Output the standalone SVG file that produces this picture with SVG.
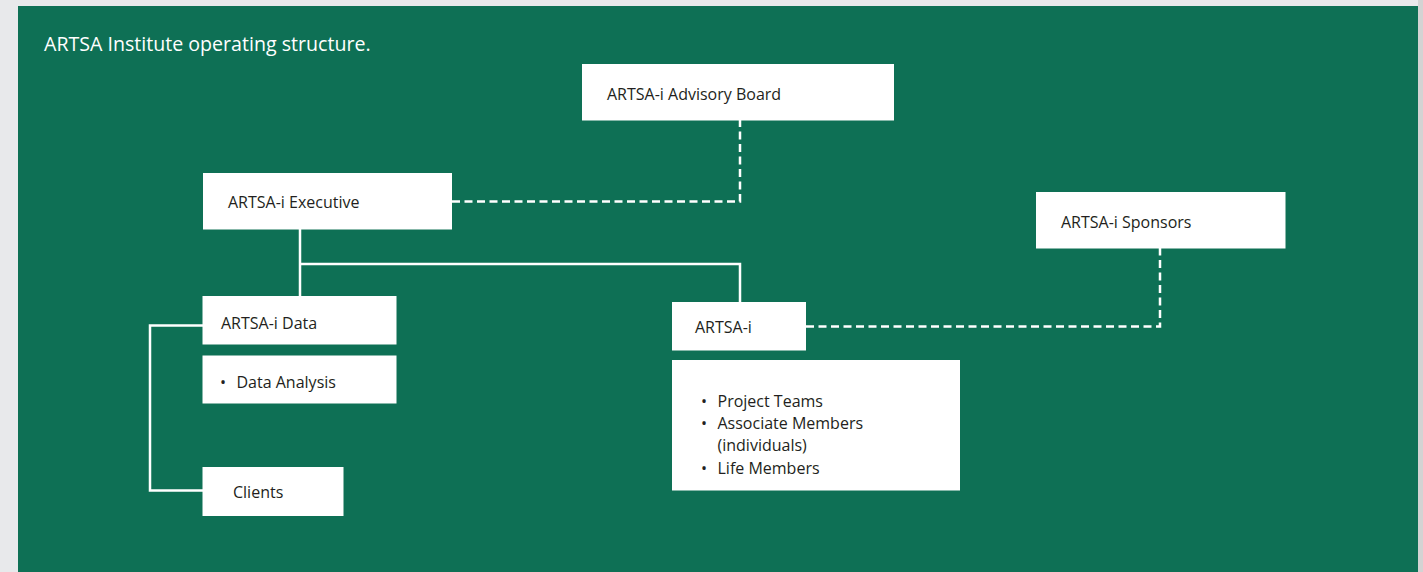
<svg xmlns="http://www.w3.org/2000/svg" width="1423" height="572" viewBox="0 0 1423 572">
<style>
.box{fill:#ffffff}
.t{font-family:"Open Sans","Liberation Sans",sans-serif;font-size:16px;fill:#231f20}
.title{font-family:"Open Sans","Liberation Sans",sans-serif;font-size:19.6px;fill:#ffffff}
.solid{fill:none;stroke:#ffffff;stroke-width:2.5}
.dash{fill:none;stroke:#ffffff;stroke-width:2.5;stroke-dasharray:8 4.5}
</style>
<rect x="0" y="0" width="1423" height="572" fill="#e8e9eb"/>
<rect x="1418" y="0" width="5" height="572" fill="#d3d3d3"/>
<rect x="18" y="6" width="1400" height="566" fill="#0e7055"/>
<text class="title" x="44" y="50.5">ARTSA Institute operating structure.</text>
<g id="connectors">
<path class="solid" d="M300,229 V296 M300,264 H740 V302"/>
<path class="solid" d="M203,325.5 H150 V490.5 H203"/>
<path class="dash" d="M452,201.5 H740 V120"/>
<path class="dash" d="M806,326.5 H1160 V248"/>
</g>
<g id="advisory-board"><rect class="box" x="582" y="64" width="312" height="56.5"/><text class="t" x="607" y="99.5">ARTSA-i Advisory Board</text></g>
<g id="executive"><rect class="box" x="203" y="173" width="249" height="56.5"/><text class="t" x="228" y="208">ARTSA-i Executive</text></g>
<g id="sponsors"><rect class="box" x="1036" y="192" width="249.5" height="56.5"/><text class="t" x="1061" y="227.5">ARTSA-i Sponsors</text></g>
<g id="data"><rect class="box" x="202.5" y="296" width="194" height="48.5"/><text class="t" x="221" y="328.5">ARTSA-i Data</text></g>
<g id="data-analysis"><rect class="box" x="202.5" y="355.5" width="194" height="48"/><text class="t" x="220" y="387.5">•</text><text class="t" x="236.5" y="387.5">Data Analysis</text></g>
<g id="clients"><rect class="box" x="202.5" y="467" width="141" height="49"/><text class="t" x="233" y="497.5">Clients</text></g>
<g id="artsa-i"><rect class="box" x="672" y="302" width="134" height="48.5"/><text class="t" x="695" y="333">ARTSA-i</text></g>
<g id="artsa-i-members"><rect class="box" x="672" y="360" width="288" height="130.5"/>
<text class="t" x="701" y="407">•</text><text class="t" x="717.5" y="407">Project Teams</text>
<text class="t" x="701" y="428.5">•</text><text class="t" x="717.5" y="428.5">Associate Members</text>
<text class="t" x="717.5" y="451">(individuals)</text>
<text class="t" x="701" y="473.5">•</text><text class="t" x="717.5" y="473.5">Life Members</text>
</g>
</svg>
